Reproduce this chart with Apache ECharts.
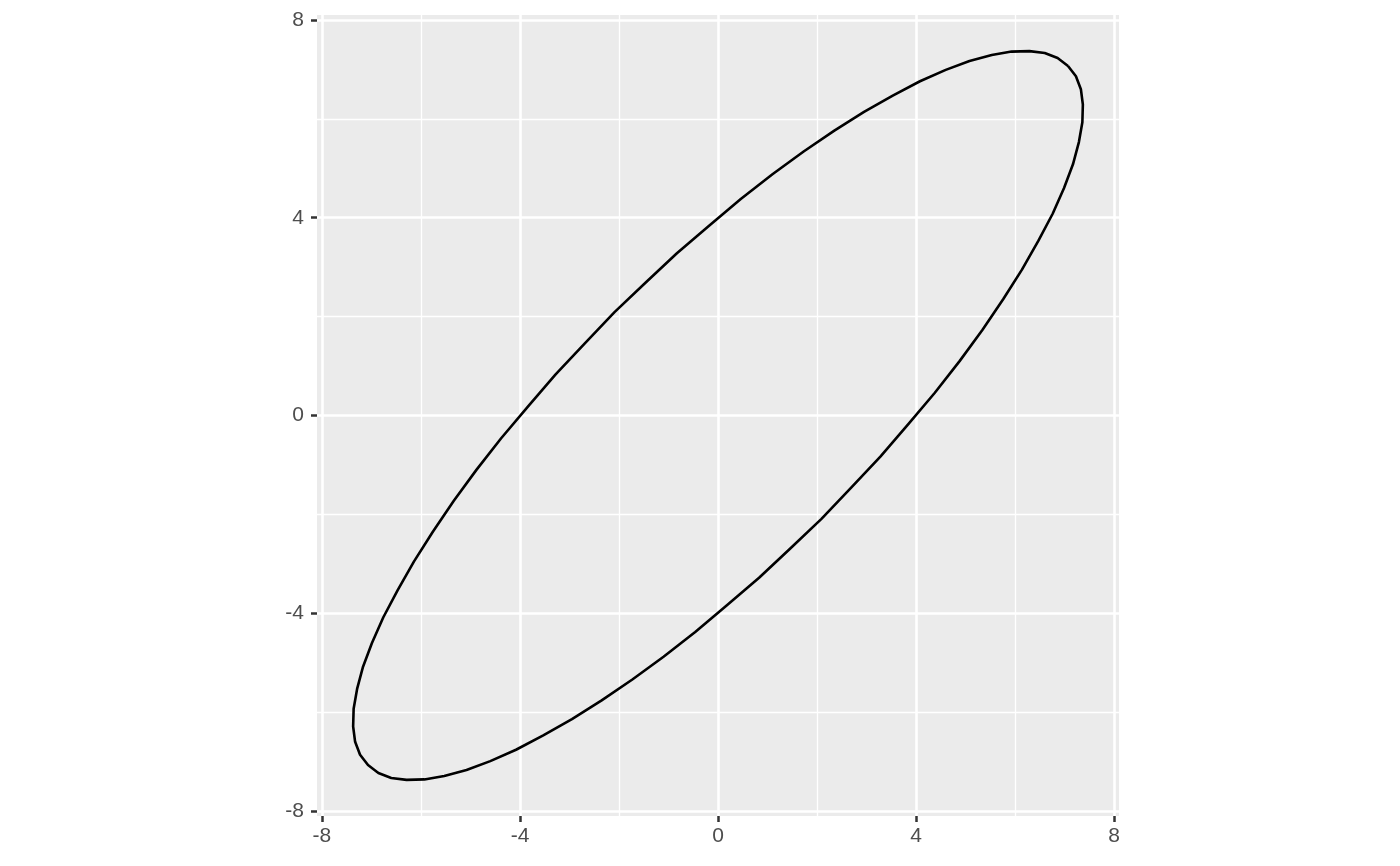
<!DOCTYPE html>
<html><head><meta charset="utf-8">
<script src="https://cdn.jsdelivr.net/npm/echarts@6/dist/echarts.min.js"></script>
<style>html,body{margin:0;padding:0;background:#fff}#c{width:1400px;height:866px}</style>
</head><body><div id="c"></div>
<script>
// Ellipse outline points
const ellipseX = [7.07,6.86,6.60,6.29,5.93,5.53,5.08,4.60,4.08,3.53,2.95,2.35,1.73,1.10,0.46,-0.18,-0.83,-1.46,-2.09,-2.69,-3.28,-3.84,-4.38,-4.88,-5.34,-5.76,-6.14,-6.47,-6.76,-6.99,-7.17,-7.29,-7.36,-7.37,-7.33,-7.23,-7.07,-6.86,-6.60,-6.29,-5.93,-5.53,-5.08,-4.60,-4.08,-3.53,-2.95,-2.35,-1.73,-1.10,-0.46,0.18,0.83,1.46,2.09,2.69,3.28,3.84,4.38,4.88,5.34,5.76,6.14,6.47,6.76,6.99,7.17,7.29,7.36,7.37,7.33,7.23,7.07];
const ellipseY = [7.07,7.23,7.33,7.37,7.36,7.29,7.17,6.99,6.76,6.47,6.14,5.76,5.34,4.88,4.38,3.84,3.28,2.69,2.09,1.46,0.83,0.18,-0.46,-1.10,-1.73,-2.35,-2.95,-3.53,-4.08,-4.60,-5.08,-5.53,-5.93,-6.29,-6.60,-6.86,-7.07,-7.23,-7.33,-7.37,-7.36,-7.29,-7.17,-6.99,-6.76,-6.47,-6.14,-5.76,-5.34,-4.88,-4.38,-3.84,-3.28,-2.69,-2.09,-1.46,-0.83,-0.18,0.46,1.10,1.73,2.35,2.95,3.53,4.08,4.60,5.08,5.53,5.93,6.29,6.60,6.86,7.07];
const tickValues = [-8,-4,0,4,8];
const minorValues = [-6,-2,2,6];
const axisMin = -8.1, axisMax = 8.1;

const pts = ellipseX.map((x,i)=>[x, ellipseY[i]]);
const chart = echarts.init(document.getElementById('c'), null, {renderer:'canvas'});
function axis(isX){
  return {
    type:'value', min:axisMin, max:axisMax,
    axisLine:{show:false, onZero:false},
    splitLine:{show:false},
    axisTick:{show:true, customValues:tickValues, length:6, lineStyle:{color:'#333333', width:2.5}},
    axisLabel:{show:true, customValues:tickValues, margin:isX?10:13, formatter:v=>String(v),
      color:'#4D4D4D', fontSize:21, fontFamily:'Liberation Sans'}
  };
}
const gridLines = [];
minorValues.forEach(v=>{
  gridLines.push({xAxis:v, lineStyle:{color:'#FFFFFF', width:1.3, type:'solid'}});
  gridLines.push({yAxis:v, lineStyle:{color:'#FFFFFF', width:1.3, type:'solid'}});
});
tickValues.forEach(v=>{
  gridLines.push({xAxis:v, lineStyle:{color:'#FFFFFF', width:2.6, type:'solid'}});
  gridLines.push({yAxis:v, lineStyle:{color:'#FFFFFF', width:2.6, type:'solid'}});
});
chart.setOption({
  animation:false,
  backgroundColor:'#FFFFFF',
  grid:{left:317, right:281, top:15, bottom:50, show:true, backgroundColor:'#EBEBEB', borderWidth:0},
  xAxis:axis(true),
  yAxis:axis(false),
  series:[
    {type:'line', data:[], silent:true,
     markLine:{silent:true, symbol:['none','none'], label:{show:false}, animation:false, data:gridLines}},
    {type:'line', data:pts, smooth:false, showSymbol:false, symbol:'none',
     lineStyle:{color:'#000000', width:2.6, join:'round'}, z:5}
  ]
});
</script></body></html>
